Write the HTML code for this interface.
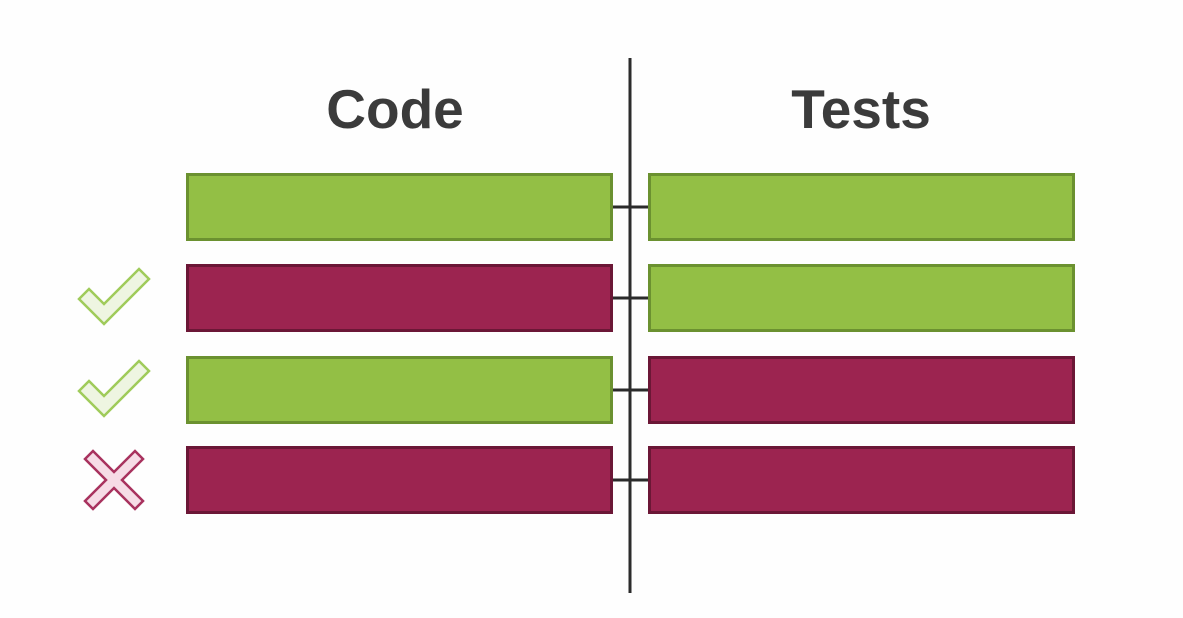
<!DOCTYPE html>
<html><head><meta charset="utf-8"><style>
html,body{margin:0;padding:0;background:#fefefe;}
svg{display:block;}
</style></head><body>
<svg width="1183" height="618" viewBox="0 0 1183 618">
<text x="395" y="128" text-anchor="middle" font-family="Liberation Sans, sans-serif" font-weight="bold" font-size="55" fill="#3b3b3b">Code</text>
<text x="861" y="128" text-anchor="middle" font-family="Liberation Sans, sans-serif" font-weight="bold" font-size="55" fill="#3b3b3b">Tests</text>
<line x1="630" y1="58" x2="630" y2="593" stroke="#2b2b2b" stroke-width="3"/>
<g id="rows"></g>
</svg>
<script>
const codeStatus = ['pass','fail','pass','fail'];
const testStatus = ['pass','pass','fail','fail'];
const marks = ['none','check','check','cross'];
const rowTops = [174,265,357,447];
const G = {fill:'#93bf45', stroke:'#6b9130'}, R = {fill:'#9c2450', stroke:'#6b1736'};
const ns='http://www.w3.org/2000/svg';
const g=document.getElementById('rows');
function mk(t,a){const e=document.createElementNS(ns,t);for(const k in a)e.setAttribute(k,a[k]);g.appendChild(e);return e;}
rowTops.forEach((top,i)=>{
  const h=66, cy=top+h/2;
  const c=codeStatus[i]==='pass'?G:R, t=testStatus[i]==='pass'?G:R;
  const l=mk('line',{x1:611,y1:cy,x2:650,y2:cy,stroke:'#2b2b2b','stroke-width':3});
  
  
  const a=mk('rect',{x:187.5,y:top+0.5,width:424,height:h-1,fill:c.fill,stroke:c.stroke,'stroke-width':3});
  
  
  const b=mk('rect',{x:649.5,y:top+0.5,width:424,height:h-1,fill:t.fill,stroke:t.stroke,'stroke-width':3});
  
  
  if(marks[i]==='check'){
    const p=mk('polygon',{points:`80,${cy-7} 96,${cy+9} 139,${cy-34} 149,${cy-25} 96,${cy+27} 70,${cy+2}`.replace('80,','81,'),fill:'#eef5e1',stroke:'#9fcb5a','stroke-width':2.5});
    p.setAttribute('points',`${81},${cy-1} ${96},${cy+12} ${139},${cy-31} ${149},${cy-21} ${96},${cy+28} ${79},${cy+10}`);
    p.setAttribute('points',`79,${cy+1} 89,${cy-9} 104,${cy+6} 139,${cy-29} 149,${cy-19} 104,${cy+26}`);
    
    
  } else if(marks[i]==='cross'){
    const x0=114, y0=cy, s=29, w=8;
    const pts=[[-s,-s+w],[-s+w,-s],[0,-w],[s-w,-s],[s,-s+w],[w,0],[s,s-w],[s-w,s],[0,w],[-s+w,s],[-s,s-w],[-w,0]].map(p=>(x0+p[0])+','+(y0+p[1])).join(' ');
    const p=mk('polygon',{points:pts,fill:'#f6dce6',stroke:'#a8325e','stroke-width':2.5});
    
    
  }
});
</script>
</body></html>
